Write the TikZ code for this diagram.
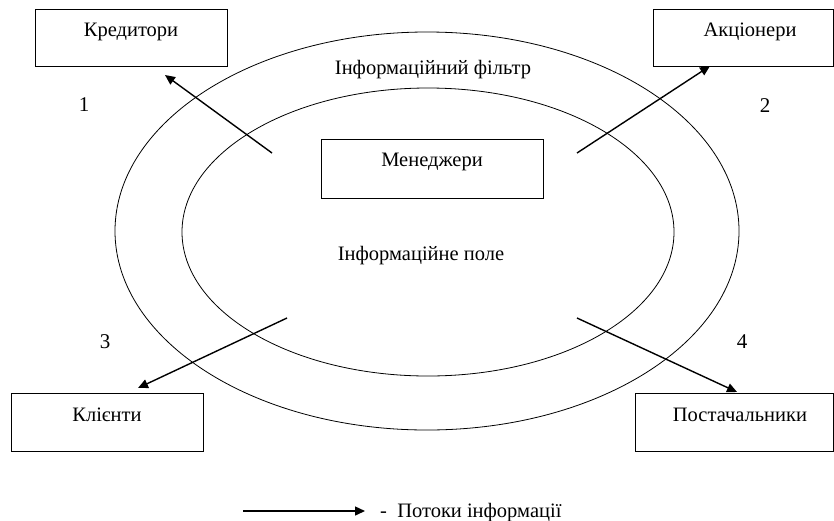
\documentclass[tikz,border=0pt]{standalone}
\usepackage{fontspec}
\setmainfont{Liberation Serif}
\usetikzlibrary{arrows.meta}
\begin{document}
\begin{tikzpicture}[x=1pt,y=-1pt,
  box/.style={draw,line width=1pt,inner sep=0pt,anchor=north west},
  ring/.style={draw,line width=0.8pt},
  flow/.style={line width=1.4pt,-{Triangle[length=10pt,width=9pt]}},
  lbl/.style={font=\fontsize{20.5}{24}\selectfont,inner sep=0pt},
  num/.style={font=\fontsize{21}{24}\selectfont,inner sep=0pt}]
\useasboundingbox (0,0) rectangle (834,520);
% ellipses
\draw[ring] (427,231) ellipse [x radius=312, y radius=199];
\draw[ring] (428,232) ellipse [x radius=246, y radius=144];
% boxes
\node[box,minimum width=192pt,minimum height=57pt] (kred) at (35,9) {};
\node[lbl] at (131,32) {Кредитори};
\node[box,minimum width=180pt,minimum height=57pt] (akc) at (653,9) {};
\node[lbl] at (750,32) {Акціонери};
\node[box,minimum width=192pt,minimum height=58pt] (klie) at (11,393) {};
\node[lbl] at (107,415) {Клієнти};
\node[box,minimum width=198pt,minimum height=58pt] (post) at (635,393) {};
\node[lbl] at (740,415) {Постачальники};
\node[box,minimum width=222pt,minimum height=59pt] (men) at (321,139) {};
\node[lbl] at (432,162) {Менеджери};
% texts
\node[lbl] (filtr) at (433,70) {Інформаційний фільтр};
\node[lbl] (pole) at (421,256) {Інформаційне поле};
\node[num] (n1) at (84,105) {1};
\node[num] (n2) at (765,106) {2};
\node[num] (n3) at (105,342) {3};
\node[num] (n4) at (742,342) {4};
% arrows
\coordinate (s1) at (272,153);
\coordinate (s2) at (577,153);
\coordinate (s3) at (287,318);
\coordinate (s4) at (577,318);
\coordinate (e1) at (165,75);
\coordinate (e2) at (710,66);
\coordinate (e3) at (138,388);
\coordinate (e4) at (737,392);
\draw[flow] (s1) -- (e1);
\draw[flow] (s2) -- (e2);
\draw[flow] (s3) -- (e3);
\draw[flow] (s4) -- (e4);
% legend
\coordinate (l1) at (243,511);
\coordinate (l2) at (365,511);
\draw[flow] (l1) -- (l2);
\node[lbl,anchor=base west] (leg) at (380,517) {-\ \ Потоки інформації};
\end{tikzpicture}
\end{document}
